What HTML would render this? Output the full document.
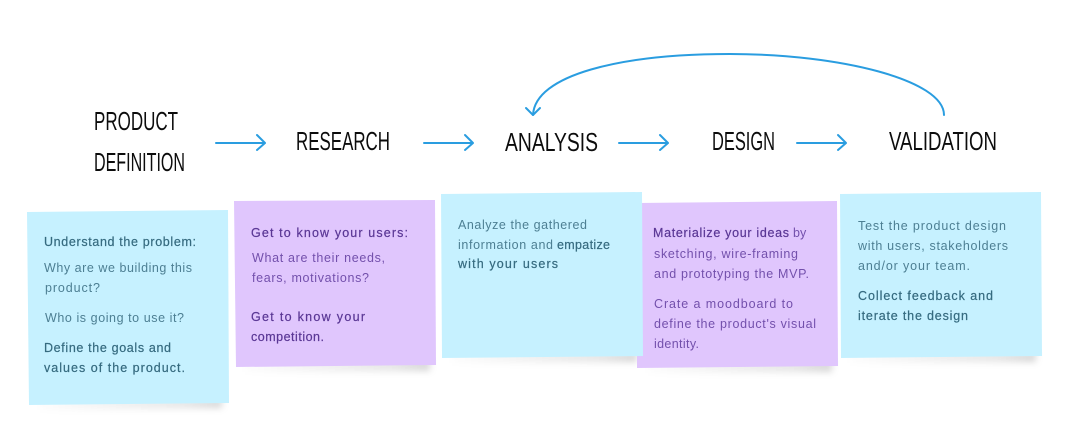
<!DOCTYPE html>
<html>
<head>
<meta charset="utf-8">
<style>
html,body{margin:0;padding:0;background:#fff;width:1068px;height:440px;overflow:hidden}
svg{display:block}
.t{font-family:"Liberation Sans",sans-serif;font-size:26px;fill:#0c0c0c}
.b,.p{font-family:"Liberation Sans",sans-serif;font-size:12.5px}
.b{fill:#4d7f93}
.p{fill:#7350ac}
.s{stroke-width:.2}
.b.s{fill:#356a7f;stroke:#356a7f}
.p.s{fill:#5a3795;stroke:#5a3795}
</style>
</head>
<body>
<svg width="1068" height="440" viewBox="0 0 1068 440" xmlns="http://www.w3.org/2000/svg">
<defs>
<linearGradient id="sg" x1="0" x2="1" y1="0" y2="0">
<stop offset="0" stop-color="#000" stop-opacity=".01"/>
<stop offset=".8" stop-color="#000" stop-opacity=".1"/>
<stop offset="1" stop-color="#000" stop-opacity=".16"/>
</linearGradient>
<filter id="bl" x="-10%" y="-300%" width="120%" height="700%"><feGaussianBlur stdDeviation="3.5"/></filter>
</defs>

<!-- shadows -->
<g filter="url(#bl)">
<polygon points="40,400 222,399 222,408 40,410" fill="url(#sg)"/>
<polygon points="245,362 430,360 430,371 245,372" fill="url(#sg)"/>
<polygon points="452,353 637,352 637,362 452,363" fill="url(#sg)"/>
<polygon points="648,363 832,361 832,372 648,373" fill="url(#sg)"/>
<polygon points="850,353 1036,352 1036,362 850,363" fill="url(#sg)"/>
</g>

<!-- cards -->
<polygon points="27,212 228,210 229,403 29,405" fill="#c6f1ff"/>
<polygon points="234,201 435,200 436,365 236,367" fill="#e0c6fd"/>
<polygon points="637,203 837,201 838,366 637,368" fill="#e0c6fd"/>
<polygon points="441,194 642,192 643,356 442,358" fill="#c6f1ff"/>
<polygon points="840,194 1041,192 1042,356 841,358" fill="#c6f1ff"/>

<!-- connectors -->
<g fill="none" stroke="#2a9de0" stroke-width="2" stroke-linecap="round" stroke-linejoin="round">
<path d="M216 143H264M257 135L265 143L257 150"/>
<path d="M424 143H472M465 135L473 143L465 150"/>
<path d="M619 143H667M660 135L668 143L660 150"/>
<path d="M797 143H845M838 135L846 143L838 150"/>
<path d="M944 115C944 80 840 54 730 54C620 54 535 75 533 115"/>
<path d="M526 108L533 115L540 108"/>
</g>

<!-- titles -->
<text class="t" x="94" y="130" textLength="84" lengthAdjust="spacingAndGlyphs">PRODUCT</text>
<text class="t" x="94" y="171" textLength="91" lengthAdjust="spacingAndGlyphs">DEFINITION</text>
<text class="t" x="296" y="150" textLength="94" lengthAdjust="spacingAndGlyphs">RESEARCH</text>
<text class="t" x="505" y="151" textLength="93" lengthAdjust="spacingAndGlyphs">ANALYSIS</text>
<text class="t" x="712" y="150" textLength="63" lengthAdjust="spacingAndGlyphs">DESIGN</text>
<text class="t" x="889" y="150" textLength="108" lengthAdjust="spacingAndGlyphs">VALIDATION</text>

<!-- card 1 -->
<text class="b s" x="44" y="246" textLength="152" lengthAdjust="spacing">Understand the problem:</text>
<text class="b" x="44" y="272" textLength="148" lengthAdjust="spacing">Why are we building this</text>
<text class="b" x="45" y="292" textLength="55" lengthAdjust="spacing">product?</text>
<text class="b" x="45" y="322" textLength="139" lengthAdjust="spacing">Who is going to use it?</text>
<text class="b s" x="44" y="352" textLength="127" lengthAdjust="spacing">Define the goals and</text>
<text class="b s" x="44" y="372" textLength="141" lengthAdjust="spacing">values of the product.</text>

<!-- card 2 -->
<text class="p s" x="251" y="237" textLength="157" lengthAdjust="spacing">Get to know your users:</text>
<text class="p" x="252" y="262" textLength="133" lengthAdjust="spacing">What are their needs,</text>
<text class="p" x="252" y="282" textLength="117" lengthAdjust="spacing">fears, motivations?</text>
<text class="p s" x="251" y="321" textLength="114" lengthAdjust="spacing">Get to know your</text>
<text class="p s" x="251" y="341" textLength="73" lengthAdjust="spacing">competition.</text>

<!-- card 3 -->
<text class="b" x="458" y="229" textLength="129" lengthAdjust="spacing">Analyze the gathered</text>
<text class="b" x="458" y="249" textLength="95" lengthAdjust="spacing">information and</text>
<text class="b s" x="557" y="249" textLength="53" lengthAdjust="spacing">empatize</text>
<text class="b s" x="458" y="268" textLength="100" lengthAdjust="spacing">with your users</text>

<!-- card 4 -->
<text class="p s" x="653" y="237" textLength="136" lengthAdjust="spacing">Materialize your ideas</text>
<text class="p" x="793" y="237">by</text>
<text class="p" x="654" y="258" textLength="144" lengthAdjust="spacing">sketching, wire-framing</text>
<text class="p" x="654" y="278" textLength="155" lengthAdjust="spacing">and prototyping the MVP.</text>
<text class="p" x="654" y="308" textLength="139" lengthAdjust="spacing">Crate a moodboard to</text>
<text class="p" x="654" y="328" textLength="162" lengthAdjust="spacing">define the product's visual</text>
<text class="p" x="654" y="348" textLength="45" lengthAdjust="spacing">identity.</text>

<!-- card 5 -->
<text class="b" x="858" y="230" textLength="148" lengthAdjust="spacing">Test the product design</text>
<text class="b" x="858" y="250" textLength="150" lengthAdjust="spacing">with users, stakeholders</text>
<text class="b" x="858" y="270" textLength="112" lengthAdjust="spacing">and/or your team.</text>
<text class="b s" x="858" y="300" textLength="135" lengthAdjust="spacing">Collect feedback and</text>
<text class="b s" x="858" y="320" textLength="110" lengthAdjust="spacing">iterate the design</text>
</svg>
</body>
</html>
